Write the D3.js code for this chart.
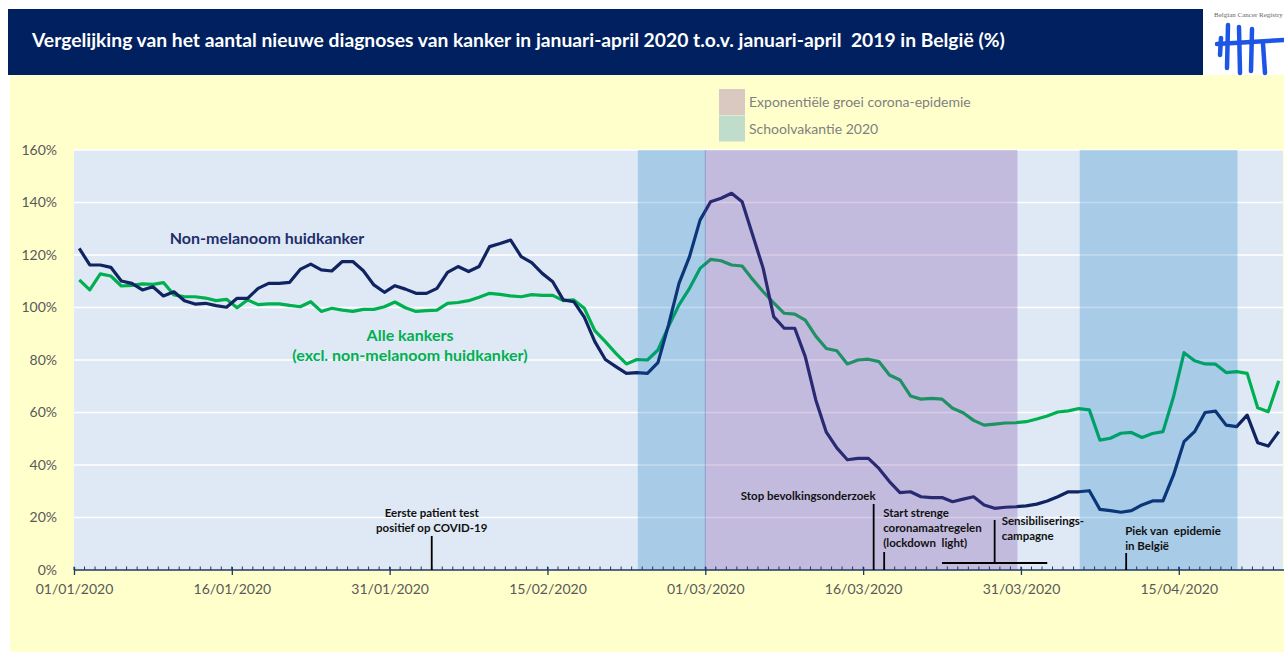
<!DOCTYPE html>
<html>
<head>
<meta charset="utf-8">
<script src="https://cdn.jsdelivr.net/npm/d3@7"></script>
<style>
  body { margin: 0; background: #fff; }
  svg { display: block; font-family: Lato, "Open Sans", sans-serif; }
  text { white-space: pre; }
</style>
</head>
<body>
<div id="chart"></div>
<script>
// ---- data ----
var firstDay = "2020-01-01";
var axisEnd = "2020-04-25";           // axis stops after 24/04/2020

// non-melanoom huidkanker, % of same day 2019 (01/01 .. 24/04)
var nonMelanoma = [
  122.5, 116.2, 116.2, 115.3, 110.1, 109.2, 106.7, 107.9, 104.4, 106.0,
  102.6, 101.3, 101.6, 100.7, 100.1, 103.5, 103.5, 107.3, 109.2, 109.2,
  109.6, 114.5, 116.5, 114.3, 113.9, 117.5, 117.5, 114.0, 108.6, 105.8,
  108.3, 107.0, 105.4, 105.4, 107.3, 113.4, 115.6, 113.7, 115.6, 123.2,
  124.4, 125.7, 119.4, 117.1, 113.0, 109.8, 102.9, 102.2, 96.3, 87.0,
  80.2, 77.5, 74.9, 75.2, 74.9, 79.0, 93.3, 109.2, 119.4, 133.3,
  140.3, 141.6, 143.5, 140.3, 127.6, 114.9, 96.5, 92.1, 92.1, 81.3,
  64.8, 52.5, 46.5, 42.0, 42.5, 42.5, 38.7, 33.7, 29.5, 29.8,
  27.9, 27.6, 27.6, 26.0, 27.0, 27.9, 24.8, 23.5, 23.9, 24.1,
  24.4, 25.1, 26.3, 27.9, 29.8, 29.8, 30.2, 23.1, 22.6, 22.0,
  22.6, 24.8, 26.3, 26.3, 36.2, 48.9, 52.7, 60.0, 60.5, 55.2,
  54.6, 59.0, 48.5, 47.2, 52.7
];

// alle kankers (excl. non-melanoom huidkanker)
var allCancers = [
  110.5, 106.7, 112.8, 112.0, 108.2, 108.4, 109.0, 108.8, 109.5, 104.8,
  104.1, 104.1, 103.6, 102.6, 103.1, 99.9, 102.9, 101.1, 101.4, 101.4,
  100.8, 100.3, 102.2, 98.5, 99.7, 99.0, 98.5, 99.3, 99.3, 100.3,
  102.1, 99.9, 98.5, 98.8, 99.0, 101.6, 101.9, 102.6, 103.9, 105.4,
  105.0, 104.4, 104.1, 104.9, 104.6, 104.6, 102.6, 102.9, 99.7, 91.2,
  87.0, 82.5, 78.5, 80.2, 80.0, 83.8, 92.7, 101.0, 107.3, 114.9,
  118.3, 117.8, 116.2, 115.8, 110.7, 106.0, 101.8, 97.8, 97.5, 95.2,
  89.1, 84.4, 83.5, 78.5, 80.0, 80.3, 79.4, 74.3, 72.4, 66.3,
  65.1, 65.4, 65.1, 61.6, 59.9, 57.0, 55.2, 55.6, 56.0, 56.1,
  56.5, 57.5, 58.7, 60.2, 60.6, 61.5, 61.0, 49.5, 50.2, 52.1,
  52.4, 50.5, 52.0, 52.7, 66.0, 82.8, 79.7, 78.5, 78.4, 75.2,
  75.6, 74.9, 61.8, 60.3, 72.1
];

var seriesNames = ["Non-melanoom huidkanker", "Alle kankers", "(excl. non-melanoom huidkanker)"];
var yTicks = [0, 20, 40, 60, 80, 100, 120, 140, 160];
var majorTickStep = 15;   // days between date labels

var periodType = ["vakantie", "epidemie", "vakantie"];
var periodStart = ["2020-02-23T14:00", "2020-03-01T00:00", "2020-04-05T14:00"];
var periodEnd = ["2020-03-01T00:00", "2020-03-30T16:00", "2020-04-20T14:00"];
var legendLabels = ["Exponentiële groei corona-epidemie", "Schoolvakantie 2020"];

var eventDates = ["2020-02-04T00:00", "2020-03-17T00:00", "2020-03-18T00:00", "2020-03-28T12:00", "2020-04-10T00:00"];
var eventLabels = [
  ["Eerste patient test", "positief op COVID-19"],
  ["Stop bevolkingsonderzoek"],
  ["Start strenge", "coronamaatregelen", "(lockdown  light)"],
  ["Sensibiliserings-", "campagne"],
  ["Piek van  epidemie", "in België"]
];
var campaignRange = ["2020-03-23T12:00", "2020-04-02T12:00"];

var titleText = "Vergelijking van het aantal nieuwe diagnoses van kanker in januari-april 2020 t.o.v. januari-april  2019 in België (%)";

// ---- layout ----
var W = 1284, H = 652;
var plot = {left: 74, right: 1284, top: 150, bottom: 570};
var navy = "#0f2461", green = "#00b050";
var bandFill = {vakantie: "rgba(0,110,192,0.245)", epidemie: "rgba(117,59,162,0.265)"};
var legendFill = ["#d9c9c0", "#c0dccb"];

function parseDate(s) {
  return s.length > 10 ? d3.timeParse("%Y-%m-%dT%H:%M")(s) : d3.timeParse("%Y-%m-%d")(s);
}

var svg = d3.select("#chart").append("svg")
  .attr("width", W)
  .attr("height", H);

svg.append("rect").attr("width", W).attr("height", H).attr("fill", "#fff");
svg.append("rect")
  .attr("x", 10).attr("y", 75)
  .attr("width", W - 10).attr("height", H - 75)
  .attr("fill", "#ffffcc");

// title bar
svg.append("rect")
  .attr("x", 8).attr("y", 9)
  .attr("width", 1195).attr("height", 66)
  .attr("fill", "#002060");
var title = svg.append("text")
  .attr("x", 32).attr("y", 47)
  .attr("fill", "#fff")
  .style("font-weight", 700)
  .style("font-size", "17px")
  .text(titleText);
// squeeze the title to the width it has in the original
var tw = title.node().getComputedTextLength();
title.style("font-size", (17 * 973 / tw).toFixed(2) + "px");

// logo (Belgian Cancer Registry)
var logo = svg.append("g").attr("transform", "translate(1203,0)");
var logoText = logo.append("text")
  .attr("x", 11).attr("y", 17)
  .attr("fill", "#666")
  .style("font-family", "'Liberation Serif', serif")
  .style("font-size", "7px")
  .text("Belgian Cancer Registry");
// keep it inside the page
var lw = logoText.node().getComputedTextLength();
if (lw > 69) logoText.style("font-size", (7 * 69 / lw).toFixed(2) + "px");
var logoBlue = "#1d55e6";
[
  "M14,44 L81,40",
  "M25,25 L24,68", "M36,27 L37,73", "M49,29 L48,71", "M60,44 L62,73",
  "M18,38 L17,55"
].forEach(function(p) {
  logo.append("path")
    .attr("d", p)
    .attr("fill", "none")
    .attr("stroke", logoBlue)
    .attr("stroke-width", 4.5)
    .attr("stroke-linecap", "round");
});

// scales
var dates = d3.timeDay.range(parseDate(firstDay), parseDate(axisEnd));
var x = d3.scaleTime()
  .domain([parseDate(firstDay), parseDate(axisEnd)])
  .range([plot.left, plot.right]);
var y = d3.scaleLinear()
  .domain([0, 160])
  .range([plot.bottom, plot.top]);
// points sit in the middle of their day
function xMid(d) { return x(d3.timeHour.offset(d, 12)); }

svg.append("rect")
  .attr("x", plot.left).attr("y", plot.top)
  .attr("width", plot.right - plot.left - 1)
  .attr("height", plot.bottom - plot.top)
  .attr("fill", "#dfe9f5");

// gridlines
svg.append("g")
  .selectAll("line")
  .data(yTicks.filter(function(t) { return t > 0; }))
  .join("line")
  .attr("x1", plot.left).attr("x2", plot.right - 1)
  .attr("y1", function(d) { return y(d); })
  .attr("y2", function(d) { return y(d); })
  .attr("stroke", "#fff")
  .attr("stroke-width", 1.3);

// lines
var line = d3.line()
  .x(function(d, i) { return xMid(dates[i]); })
  .y(function(d) { return y(d); });

svg.append("path")
  .datum(allCancers)
  .attr("d", line)
  .attr("fill", "none")
  .attr("stroke", green)
  .attr("stroke-width", 3.2)
  .attr("stroke-linejoin", "round");
svg.append("path")
  .datum(nonMelanoma)
  .attr("d", line)
  .attr("fill", "none")
  .attr("stroke", navy)
  .attr("stroke-width", 3.2)
  .attr("stroke-linejoin", "round");

// shaded periods, drawn over the lines like the original
svg.append("g")
  .selectAll("rect")
  .data(periodType)
  .join("rect")
  .attr("x", function(d, i) { return x(parseDate(periodStart[i])); })
  .attr("width", function(d, i) { return x(parseDate(periodEnd[i])) - x(parseDate(periodStart[i])); })
  .attr("y", plot.top)
  .attr("height", plot.bottom - plot.top)
  .attr("fill", function(d) { return bandFill[d]; });
svg.append("line")
  .attr("x1", x(parseDate(periodStart[1]))).attr("x2", x(parseDate(periodStart[1])))
  .attr("y1", plot.top).attr("y2", plot.bottom)
  .attr("stroke", "rgba(70,90,170,0.35)")
  .attr("stroke-width", 1);

// y axis labels
var yAxis = svg.append("g")
  .attr("transform", "translate(" + plot.left + ",0)")
  .call(d3.axisLeft(y).tickValues(yTicks).tickSize(0).tickPadding(17)
    .tickFormat(function(d) { return d + "%"; }));
yAxis.select(".domain").remove();
yAxis.selectAll("text")
  .attr("fill", "#595959")
  .style("font-family", "Lato, sans-serif")
  .style("font-size", "14px");

// x axis: minor tick each day, label every 15 days
svg.append("g")
  .selectAll("line")
  .data(dates)
  .join("line")
  .attr("x1", function(d) { return x(d); })
  .attr("x2", function(d) { return x(d); })
  .attr("y1", plot.bottom - 3.5)
  .attr("y2", plot.bottom)
  .attr("stroke", "#1f3864")
  .attr("stroke-width", 1);

var majorDates = dates.filter(function(d, i) { return i % majorTickStep === 0; });
var xAxis = svg.append("g")
  .attr("transform", "translate(0," + plot.bottom + ")")
  .call(d3.axisBottom(x).tickValues(majorDates).tickSize(5).tickPadding(9)
    .tickFormat(d3.timeFormat("%d/%m/%Y")));
xAxis.select(".domain")
  .attr("d", "M" + plot.left + ",0H" + plot.right)
  .attr("stroke", "#1f3864")
  .attr("stroke-width", 1.5);
xAxis.selectAll(".tick line").attr("stroke", "#1f3864").attr("y1", -3).attr("stroke-width", 1.3);
xAxis.selectAll("text")
  .attr("fill", "#595959")
  .style("font-family", "Lato, sans-serif")
  .style("font-size", "14px");

// series labels
svg.append("text")
  .attr("x", 267).attr("y", 244)
  .attr("text-anchor", "middle")
  .attr("fill", "#1f2f6b")
  .style("font-weight", 700)
  .style("font-size", "16px")
  .text(seriesNames[0]);
svg.append("text")
  .attr("text-anchor", "middle")
  .attr("fill", green)
  .style("font-weight", 700)
  .style("font-size", "16px")
  .selectAll("tspan")
  .data(seriesNames.slice(1))
  .join("tspan")
  .attr("x", 410)
  .attr("y", function(d, i) { return 341 + i * 20; })
  .text(function(d) { return d; });

// legend
var legend = svg.append("g");
legend.selectAll("rect")
  .data(legendLabels)
  .join("rect")
  .attr("x", 719)
  .attr("y", function(d, i) { return 89 + i * 26.5; })
  .attr("width", 26).attr("height", 26)
  .attr("fill", function(d, i) { return legendFill[i]; });
legend.selectAll("text")
  .data(legendLabels)
  .join("text")
  .attr("x", 749)
  .attr("y", function(d, i) { return 107 + i * 27; })
  .attr("fill", "#7f7f7f")
  .style("font-size", "14px")
  .text(function(d) { return d; });

// event annotations
var evLayout = [
  {anchor: "middle", dx: 0, base: 517, top: 536},
  {anchor: "end", dx: 2, base: 500, top: 504},
  {anchor: "start", dx: -1, base: 517, top: 552},
  {anchor: "start", dx: 7, base: 525, top: 520, bottom: 563},
  {anchor: "start", dx: -1, base: 535, top: 553}
];
var ev = svg.append("g").selectAll("g")
  .data(eventDates)
  .join("g");
ev.append("line")
  .attr("x1", function(d) { return x(parseDate(d)); })
  .attr("x2", function(d) { return x(parseDate(d)); })
  .attr("y1", function(d, i) { return evLayout[i].top; })
  .attr("y2", function(d, i) { return evLayout[i].bottom || plot.bottom; })
  .attr("stroke", "#000")
  .attr("stroke-width", 1.8);
ev.append("text")
  .attr("text-anchor", function(d, i) { return evLayout[i].anchor; })
  .style("font-weight", 700)
  .style("font-size", "11.5px")
  .attr("fill", "#111")
  .each(function(d, i) {
    var lay = evLayout[i];
    d3.select(this).selectAll("tspan")
      .data(eventLabels[i])
      .join("tspan")
      .attr("x", x(parseDate(d)) + lay.dx)
      .attr("y", function(t, j) { return lay.base + j * 15; })
      .text(function(t) { return t; });
  });
// campaign span
svg.append("line")
  .attr("x1", x(parseDate(campaignRange[0])))
  .attr("x2", x(parseDate(campaignRange[1])))
  .attr("y1", 563).attr("y2", 563)
  .attr("stroke", "#000")
  .attr("stroke-width", 2);
</script>
</body>
</html>
